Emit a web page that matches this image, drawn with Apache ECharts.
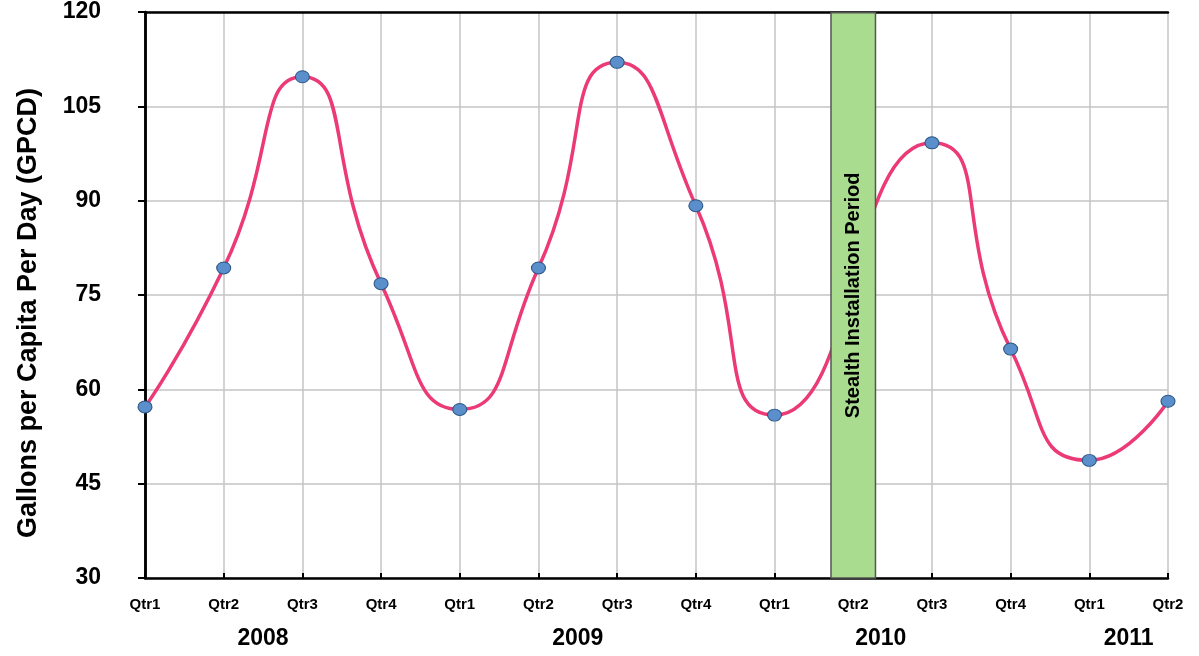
<!DOCTYPE html>
<html>
<head>
<meta charset="utf-8">
<script src="https://cdn.jsdelivr.net/npm/echarts@6/dist/echarts.min.js"></script>
<style>html,body{margin:0;padding:0;background:#fff}#c{width:1199px;height:656px}</style>
</head>
<body>
<div id="c"></div>
<script>
const quarters = ['Qtr1','Qtr2','Qtr3','Qtr4','Qtr1','Qtr2','Qtr3','Qtr4','Qtr1','Qtr2','Qtr3','Qtr4','Qtr1','Qtr2'];
const gpcd = [57.2, 79.3, 109.7, 76.8, 56.8, 79.3, 112.0, 89.2, 55.9, null, 99.2, 66.4, 48.7, 58.1];
const years = ['2008', '2009', '2010', '2011'];
const yearCenters = [1.5, 5.5, 9.35, 12.5];
const installPeriod = [null, null, null, null, null, null, null, null, null, 120, null, null, null, null];
const installLabel = 'Stealth Installation Period';
const yTicks = {min: 30, max: 120, interval: 15};

const frameAxis = {axisLine: {show: true, lineStyle: {color: '#000', width: 2.5}}, axisTick: {show: false}, axisLabel: {show: false}, splitLine: {show: false}};

const chart = echarts.init(document.getElementById('c'));
chart.setOption({
  animation: false,
  grid: {left: 145, right: 31, top: 12, bottom: 78},
  xAxis: [{
    type: 'category', data: quarters, boundaryGap: false,
    axisLine: {lineStyle: {color: '#000', width: 2.5}},
    axisTick: {inside: true, length: 5, lineStyle: {color: '#000', width: 2}},
    axisLabel: {margin: 19, color: '#000', fontSize: 15, fontWeight: 'bold', fontFamily: 'Liberation Sans, Arial', interval: 0},
    splitLine: {show: true, lineStyle: {color: '#c4c4c4', width: 1.5}}
  }, {
    type: 'value', min: 0, max: 13, position: 'bottom', offset: 41,
    axisLine: {show: false}, axisTick: {show: false}, splitLine: {show: false},
    axisLabel: {customValues: yearCenters, formatter: v => years[yearCenters.indexOf(v)] || '', color: '#000', fontSize: 23, fontWeight: 'bold', fontFamily: 'Liberation Sans, Arial'}
  }, Object.assign({type: 'value', min: 0, max: 13, position: 'top'}, frameAxis)],
  yAxis: [{
    type: 'value', min: yTicks.min, max: yTicks.max, interval: yTicks.interval,
    name: 'Gallons per Capita Per Day (GPCD)', nameLocation: 'middle', nameGap: 103,
    nameTextStyle: {color: '#000', fontSize: 27, fontWeight: 'bold', fontFamily: 'Liberation Sans, Arial', padding: [0, 36, 0, 0]},
    axisLine: {show: true, lineStyle: {color: '#000', width: 2.5}},
    axisTick: {show: true, length: 7, lineStyle: {color: '#000', width: 2}},
    axisLabel: {margin: 44, color: '#000', fontSize: 23, fontWeight: 'bold', fontFamily: 'Liberation Sans, Arial'},
    splitLine: {show: true, lineStyle: {color: '#c4c4c4', width: 1.5}}
  }, Object.assign({type: 'value', min: yTicks.min, max: yTicks.max, position: 'right'}, frameAxis)],
  series: [{
    type: 'line', data: gpcd, smooth: 0.6, connectNulls: true, z: 2,
    lineStyle: {color: '#EC3A77', width: 3.5},
    symbol: 'circle', symbolSize: [14, 12],
    itemStyle: {color: '#5B8FCB', borderColor: '#2C5685', borderWidth: 1}
  }, {
    type: 'bar', data: installPeriod, barWidth: 46, z: 5,
    itemStyle: {color: '#A9DC8E', borderColor: '#555', borderWidth: 1.5},
    label: {show: true, position: 'inside', rotate: 90, formatter: installLabel, color: '#000', fontSize: 20, fontWeight: 'bold', fontFamily: 'Liberation Sans Narrow, Liberation Sans, Arial'}
  }]
});
</script>
</body>
</html>
